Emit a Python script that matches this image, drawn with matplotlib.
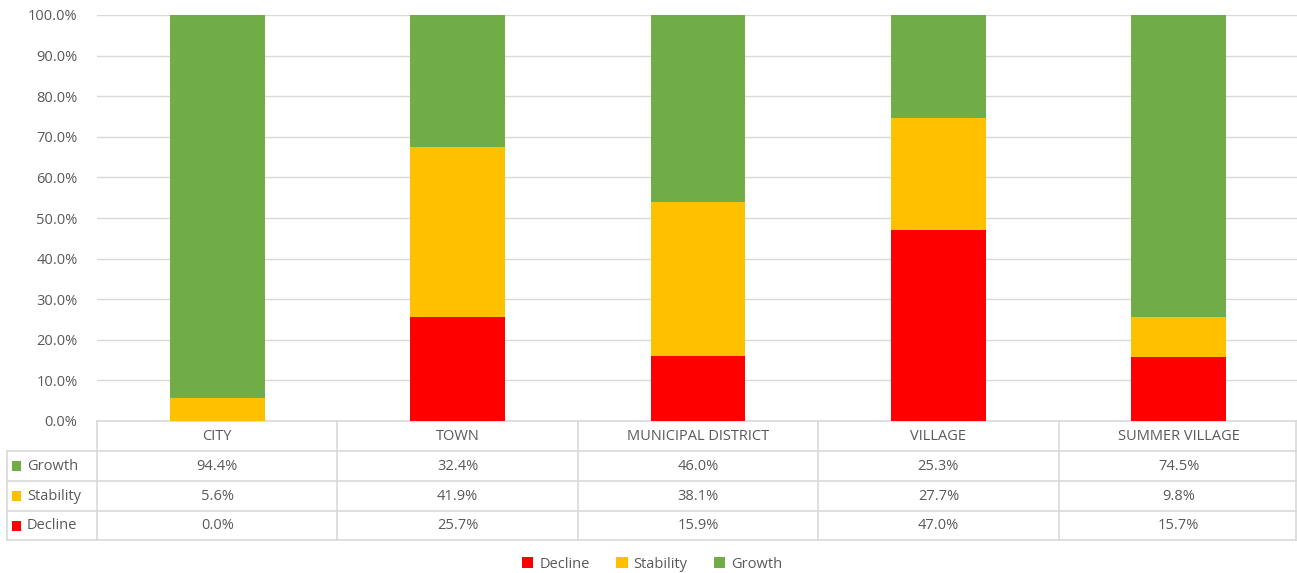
import numpy as np
import matplotlib.pyplot as plt
from matplotlib.patches import Rectangle
from matplotlib.transforms import blended_transform_factory

# Data
categories = ["CITY", "TOWN", "MUNICIPAL DISTRICT", "VILLAGE", "SUMMER VILLAGE"]
growth = [94.4, 32.4, 46.0, 25.3, 74.5]
stability = [5.6, 41.9, 38.1, 27.7, 9.8]
decline = [0.0, 25.7, 15.9, 47.0, 15.7]

colors = {"Decline": "#FF0000", "Stability": "#FFC000", "Growth": "#70AD47"}
text_color = "#595959"
grid_color = "#D9D9D9"

plt.rcParams["font.family"] = ["Open Sans", "DejaVu Sans"]

W, H = 1297, 573
fig = plt.figure(figsize=(W / 100, H / 100), dpi=100)

# plot area in pixels
left_px, right_px, top_px, bot_px = 97, 1299, 15, 421
ax = fig.add_axes([left_px / W, (H - bot_px) / H,
                   (right_px - left_px) / W, (bot_px - top_px) / H])

x = np.arange(len(categories)) + 0.5
d = np.array(decline)
s = np.array(stability)
g = np.array(growth)

ax.bar(x, d, width=0.395, color=colors["Decline"], label="Decline", zorder=3)
ax.bar(x, s, width=0.395, bottom=d, color=colors["Stability"], label="Stability", zorder=3)
ax.bar(x, g, width=0.395, bottom=d + s, color=colors["Growth"], label="Growth", zorder=3)

ax.set_xlim(0, len(categories))
ax.set_ylim(0, 100)
ax.set_yticks(np.arange(0, 101, 10))
ax.set_yticklabels([f"{v:.1f}%" for v in np.arange(0, 101, 10)],
                   color=text_color, fontsize=10.5)
ax.tick_params(axis="y", length=0, pad=14)
ax.set_xticks([])
ax.grid(axis="y", color=grid_color, linewidth=1, zorder=0)
for sp in ax.spines.values():
    sp.set_visible(False)

# Data table below the plot
ax_h = bot_px - top_px
col_w = (right_px - left_px) / len(categories)


def ya(ypix):
    return (bot_px - ypix) / ax_h


def xd(xpix):
    return (xpix - left_px) / col_w


trans = blended_transform_factory(ax.transData, ax.transAxes)
line_kw = dict(color=grid_color, linewidth=1.2, transform=trans, clip_on=False)

rows_px = [421, 451, 481, 511, 540]
x_left = xd(7)
x_right = xd(1296)
n = len(categories)

# horizontal lines
ax.plot([0, x_right], [ya(rows_px[0])] * 2, **line_kw)
for yp in rows_px[1:]:
    ax.plot([x_left, x_right], [ya(yp)] * 2, **line_kw)
# vertical lines
ax.plot([x_left, x_left], [ya(rows_px[1]), ya(rows_px[-1])], **line_kw)
for i in range(n):
    ax.plot([i, i], [ya(rows_px[0]), ya(rows_px[-1])], **line_kw)
ax.plot([x_right, x_right], [ya(rows_px[0]), ya(rows_px[-1])], **line_kw)

txt_kw = dict(transform=trans, color=text_color, fontsize=10.5,
              va="center", clip_on=False)
for i, c in enumerate(categories):
    ax.text(i + 0.5, ya((rows_px[0] + rows_px[1]) / 2), c, ha="center", **txt_kw)

table_rows = [("Growth", growth), ("Stability", stability), ("Decline", decline)]
for r, (name, vals) in enumerate(table_rows):
    yc = ya((rows_px[r + 1] + rows_px[r + 2]) / 2)
    ax.add_patch(Rectangle((xd(12), yc - 5 / ax_h), 9 / col_w, 10 / ax_h,
                           facecolor=colors[name], transform=trans, clip_on=False))
    ax.text(xd(27), yc, name, ha="left", **txt_kw)
    for i, v in enumerate(vals):
        ax.text(i + 0.5, yc, f"{v:.1f}%", ha="center", **txt_kw)

# Legend
leg = fig.legend(loc="center", bbox_to_anchor=(652 / W, (H - 564) / H), ncol=3,
                 frameon=False, fontsize=10.5, handlelength=0.8, handleheight=0.8,
                 handletextpad=0.4, columnspacing=1.8)
for t in leg.get_texts():
    t.set_color(text_color)

fig.savefig("out.png", dpi=100)
